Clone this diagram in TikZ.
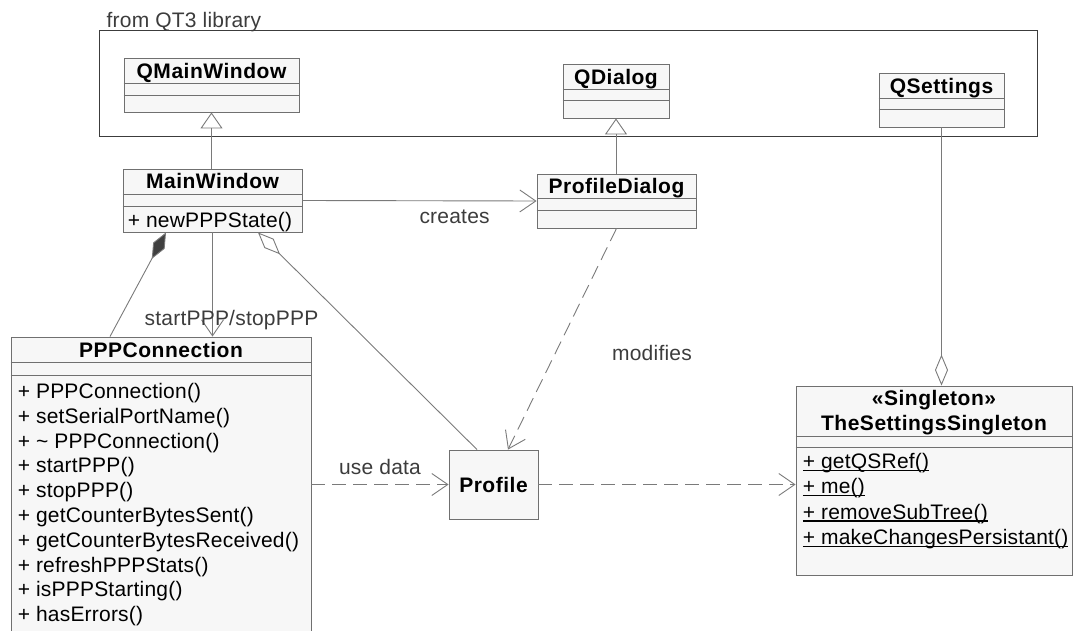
\documentclass[tikz,border=0pt]{standalone}
\usepackage{fontspec}
\setmainfont{Liberation Sans}
\newfontfamily\titlefont[LetterSpace=2.5]{Liberation Sans}
\newfontfamily\opfont[LetterSpace=1]{Liberation Sans}
\usetikzlibrary{arrows.meta}
\definecolor{boxfill}{HTML}{F7F7F7}
\definecolor{boxgray}{HTML}{707070}
\definecolor{linegray}{HTML}{7A7A7A}
\definecolor{labelgray}{HTML}{3C3C3C}
\definecolor{darkdiamond}{HTML}{404040}
\newcommand{\staticop}[1]{\setbox0\hbox{#1}\rlap{\rule[-2.4pt]{\wd0}{1.1pt}}\box0}

\begin{document}
\begin{tikzpicture}[x=1pt,y=-1pt,
        classbox/.style={draw=boxgray,fill=boxfill,line width=0.9pt,inner sep=0pt},
        compartment/.style={draw=boxgray,line width=0.8pt},
        classname/.style={anchor=base,inner sep=0pt,font=\fontsize{21}{24}\titlefont\bfseries},
        opname/.style={anchor=base west,inner sep=0pt,font=\fontsize{21}{25}\opfont},
        edgelabel/.style={inner sep=0pt,text=labelgray,font=\fontsize{21}{25}\opfont},
        conn/.style={draw=linegray,line width=0.9pt},
        inherit/.style={conn,-{Triangle[open,length=16pt,width=22pt,fill=white]}},
        navig/.style={conn,-{Straight Barb[length=16pt,width=22pt]}},
        dependency/.style={navig,dash pattern=on 14pt off 7pt},
        composite/.style={conn,{Diamond[length=30pt,width=13pt,fill=darkdiamond]}-},
        aggregate/.style={conn,{Diamond[open,length=31pt,width=13pt,fill=white]}-}]
    \useasboundingbox (0,0) rectangle (1073,631);

    % package frame
    \node[draw=labelgray,line width=1pt,minimum width=938,minimum height=106,inner sep=0pt] (qtlib) at (568,84) {};
    \node[anchor=base west,inner sep=0pt,text=labelgray,font=\fontsize{21}{25}\opfont] (qtlibname) at ([xshift=8pt,yshift=3pt]qtlib.north west) {from QT3 library};

    % library classes
    \node[classbox,minimum width=175,minimum height=54] (qmainwindow) at (211.5,85) {};
    \draw[compartment] ([yshift=-26pt]qmainwindow.north west) -- ([yshift=-26pt]qmainwindow.north east);
    \draw[compartment] ([yshift=-38pt]qmainwindow.north west) -- ([yshift=-38pt]qmainwindow.north east);
    \node[classname] (qmainwindowname) at ([yshift=-20.5pt]qmainwindow.north) {QMainWindow};

    \node[classbox,minimum width=106,minimum height=54] (qdialog) at (616,91) {};
    \draw[compartment] ([yshift=-26pt]qdialog.north west) -- ([yshift=-26pt]qdialog.north east);
    \draw[compartment] ([yshift=-37pt]qdialog.north west) -- ([yshift=-37pt]qdialog.north east);
    \node[classname] (qdialogname) at ([yshift=-20.5pt]qdialog.north) {QDialog};

    \node[classbox,minimum width=125,minimum height=54] (qsettings) at (941.5,100) {};
    \draw[compartment] ([yshift=-26pt]qsettings.north west) -- ([yshift=-26pt]qsettings.north east);
    \draw[compartment] ([yshift=-37pt]qsettings.north west) -- ([yshift=-37pt]qsettings.north east);
    \node[classname] (qsettingsname) at ([yshift=-20.5pt]qsettings.north) {QSettings};

    % application classes
    \node[classbox,minimum width=179,minimum height=63] (mainwindow) at (212.5,200.5) {};
    \draw[compartment] ([yshift=-26pt]mainwindow.north west) -- ([yshift=-26pt]mainwindow.north east);
    \draw[compartment] ([yshift=-38pt]mainwindow.north west) -- ([yshift=-38pt]mainwindow.north east);
    \node[classname] (mainwindowname) at ([yshift=-20pt]mainwindow.north) {MainWindow};
    \node[opname] (newpppstate) at ([xshift=5pt,yshift=-59pt]mainwindow.north west) {+ newPPPState()};

    \node[classbox,minimum width=159,minimum height=54] (profiledialog) at (616.5,201) {};
    \draw[compartment] ([yshift=-25pt]profiledialog.north west) -- ([yshift=-25pt]profiledialog.north east);
    \draw[compartment] ([yshift=-37pt]profiledialog.north west) -- ([yshift=-37pt]profiledialog.north east);
    \node[classname] (profiledialogname) at ([yshift=-20pt]profiledialog.north) {ProfileDialog};

    \node[classbox,minimum width=300,minimum height=310] (pppconnection) at (161,492) {};
    \draw[compartment] ([yshift=-26pt]pppconnection.north west) -- ([yshift=-26pt]pppconnection.north east);
    \draw[compartment] ([yshift=-39pt]pppconnection.north west) -- ([yshift=-39pt]pppconnection.north east);
    \node[classname] (pppconnectionname) at ([yshift=-20.5pt]pppconnection.north) {PPPConnection};
    \foreach \op [count=\i from 0] in {PPPConnection(),setSerialPortName(),\textasciitilde\ PPPConnection(),startPPP(),stopPPP(),getCounterBytesSent(),getCounterBytesReceived(),refreshPPPStats(),isPPPStarting(),hasErrors()}
        \node[opname] (pppop\i) at ([xshift=7pt,yshift={-62pt-24.8pt*\i}]pppconnection.north west) {+ \op};

    \node[classbox,minimum width=89,minimum height=69] (profile) at (493.5,484.5) {};
    \node[classname] (profilename) at ([yshift=-7.5pt]profile.center) {Profile};

    \node[classbox,minimum width=276,minimum height=189] (singleton) at (934,480.5) {};
    \draw[compartment] ([yshift=-51pt]singleton.north west) -- ([yshift=-51pt]singleton.north east);
    \draw[compartment] ([yshift=-62pt]singleton.north west) -- ([yshift=-62pt]singleton.north east);
    \node[classname] (stereotype) at ([yshift=-20pt]singleton.north) {«Singleton»};
    \node[classname] (singletonname) at ([yshift=-45pt]singleton.north) {TheSettingsSingleton};
    \foreach \op [count=\i from 0] in {getQSRef(),me(),removeSubTree(),makeChangesPersistant()}
        \node[opname] (singletonop\i) at ([xshift=7pt,yshift={-83pt-25.3pt*\i}]singleton.north west) {\staticop{+ \op}};

    % relations
    \draw[inherit] (mainwindow.north -| qmainwindow.south) -- (qmainwindow.south);
    \draw[inherit] (profiledialog.north -| qdialog.south) -- (qdialog.south);
    \draw[navig] (mainwindow.east) -- node[edgelabel,pos=0.65,below=9pt] (createslabel) {creates} (profiledialog.west);
    \draw[navig] (mainwindow.south) -- node[edgelabel,pos=0.84,xshift=19pt] (startstoplabel) {startPPP/stopPPP} (mainwindow.south |- pppconnection.north);
    \draw[composite] ([xshift=-46.5pt]mainwindow.south) -- ([xshift=-51pt]pppconnection.north);
    \draw[aggregate] ([xshift=45.5pt]mainwindow.south) -- ([xshift=-16.5pt]profile.north);
    \draw[dependency] (profiledialog.south) -- ([xshift=14.5pt]profile.north);
    \node[edgelabel] (modifieslabel) at (652,353) {modifies};
    \draw[dependency] (profile.west -| pppconnection.east) -- node[edgelabel,above=9pt] (usedatalabel) {use data} (profile.west);
    \draw[dependency] (profile.east) -- (profile.east -| singleton.west);
    \draw[aggregate] (qsettings.south |- singleton.north) -- (qsettings.south);
\end{tikzpicture}
\end{document}
